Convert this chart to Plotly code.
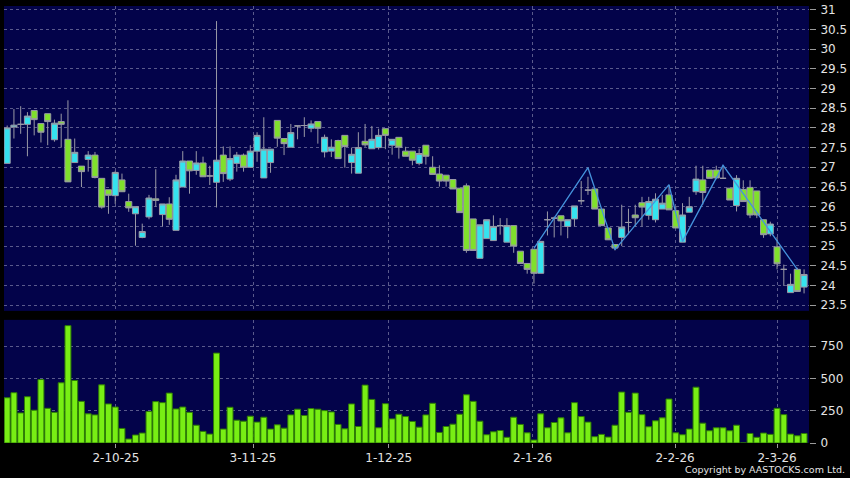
import plotly.graph_objects as go

# ---------------- data ----------------
opens = [27.10, 28.02, 28.09, 28.09, 28.44, 28.11, 28.36, 27.70, 28.16, 27.71,
         27.12, 27.03, 27.20, 27.31, 26.72, 26.43, 26.28, 26.68, 26.13, 25.82,
         25.22, 25.74, 26.20, 25.80, 26.07, 25.40, 26.50, 27.16, 26.92, 27.11,
         26.78, 26.62, 27.31, 26.70, 27.10, 27.31, 27.00, 27.41, 26.73, 27.12,
         28.19, 27.73, 27.51, 28.05, 28.06, 27.99, 28.16, 27.39, 27.41, 27.68,
         27.81, 27.12, 26.85, 27.66, 27.47, 27.50, 27.98, 27.56, 27.76, 27.41,
         27.41, 27.10, 27.56, 27.00, 26.83, 26.80, 26.69, 26.47, 26.53, 25.69,
         24.69, 25.19, 25.14, 25.52, 25.10, 25.52, 24.87, 24.56, 24.92, 24.31,
         25.67, 25.71, 25.77, 25.50, 25.69, 26.15, 26.42, 26.45, 25.94, 25.46,
         25.04, 25.22, 25.60, 25.79, 26.10, 25.78, 25.67, 25.94, 26.30, 25.90,
         25.10, 25.86, 26.38, 26.68, 26.93, 26.93, 26.72, 26.47, 26.03, 26.44,
         26.49, 26.40, 25.67, 25.31, 24.98, 24.41, 23.82, 24.41, 23.96]
highs = [28.06, 28.48, 28.55, 28.40, 28.44, 28.11, 28.36, 28.21, 28.36, 28.70,
         27.73, 27.03, 27.41, 27.39, 26.72, 26.43, 26.91, 26.84, 26.33, 26.00,
         25.57, 26.30, 26.95, 26.07, 26.24, 26.81, 27.41, 27.16, 27.41, 27.27,
         27.04, 30.71, 27.53, 27.53, 27.39, 27.35, 27.56, 27.89, 28.27, 27.46,
         28.19, 27.73, 28.10, 28.05, 28.27, 28.19, 28.16, 27.83, 27.71, 27.70,
         27.81, 27.50, 27.89, 28.10, 28.05, 27.98, 27.98, 27.71, 27.76, 27.52,
         27.41, 27.47, 27.56, 27.28, 27.05, 26.80, 26.69, 26.47, 26.59, 25.69,
         25.54, 25.67, 25.78, 25.71, 25.71, 25.52, 24.87, 24.56, 24.92, 25.12,
         25.88, 25.75, 25.77, 25.67, 26.02, 26.65, 26.76, 26.45, 25.94, 25.46,
         25.04, 26.05, 25.95, 26.05, 26.25, 26.25, 26.34, 26.30, 26.55, 26.00,
         26.09, 26.25, 27.04, 27.04, 26.93, 27.04, 27.05, 26.47, 26.80, 26.67,
         26.67, 26.40, 25.67, 25.62, 25.23, 24.53, 24.30, 24.45, 24.41]
lows = [27.10, 27.73, 27.85, 27.28, 27.81, 27.63, 27.56, 27.65, 27.50, 26.63,
        27.12, 26.50, 26.89, 26.72, 25.95, 25.82, 26.07, 26.38, 25.87, 25.01,
        25.20, 25.68, 26.00, 25.50, 25.54, 25.40, 26.50, 26.33, 26.81, 26.76,
        26.55, 25.98, 26.63, 26.65, 26.89, 26.89, 27.00, 27.14, 26.73, 26.86,
        27.52, 27.31, 27.51, 27.71, 27.77, 27.89, 27.60, 27.25, 27.26, 27.22,
        26.99, 26.84, 26.85, 27.52, 27.47, 27.45, 27.46, 27.32, 27.22, 27.28,
        27.05, 27.05, 27.07, 26.82, 26.51, 26.51, 26.45, 25.85, 24.83, 24.89,
        24.69, 25.19, 25.14, 25.29, 25.10, 24.83, 24.56, 24.30, 24.05, 24.31,
        25.27, 25.22, 25.27, 25.20, 25.50, 26.05, 26.30, 25.94, 25.52, 25.16,
        24.89, 25.00, 25.30, 25.50, 25.50, 25.67, 25.60, 25.94, 25.92, 25.46,
        25.10, 25.86, 26.30, 26.05, 26.72, 26.70, 26.72, 26.17, 25.88, 26.13,
        25.71, 25.71, 25.21, 25.25, 24.41, 23.99, 23.82, 23.85, 23.80]
closes = [28.00, 28.07, 28.09, 28.30, 28.21, 27.89, 28.16, 28.12, 28.09, 26.63,
          27.38, 26.89, 27.31, 26.74, 25.99, 26.29, 26.87, 26.38, 25.97, 26.00,
          25.37, 26.22, 26.16, 26.07, 25.68, 26.68, 27.16, 26.91, 27.11, 26.76,
          26.78, 27.18, 26.84, 27.22, 27.31, 27.00, 27.41, 27.81, 27.46, 27.46,
          27.74, 27.60, 27.88, 28.05, 28.06, 28.10, 27.99, 27.76, 27.51, 27.22,
          27.53, 27.33, 27.50, 27.57, 27.71, 27.81, 27.81, 27.71, 27.51, 27.28,
          27.18, 27.35, 27.28, 26.82, 26.65, 26.65, 26.45, 25.85, 24.89, 24.89,
          25.54, 25.67, 25.50, 25.52, 25.52, 25.00, 24.56, 24.41, 24.31, 25.12,
          25.67, 25.71, 25.64, 25.67, 26.02, 26.15, 26.42, 25.94, 25.52, 25.16,
          24.95, 25.48, 25.60, 25.72, 25.99, 26.13, 26.19, 26.09, 25.92, 25.46,
          25.79, 26.00, 26.70, 26.36, 26.72, 26.73, 26.72, 26.17, 26.72, 26.13,
          25.79, 25.79, 25.29, 25.56, 24.55, 24.41, 24.03, 23.85, 24.28]
volumes = [351, 390, 233, 359, 254, 492, 269, 238, 467, 910,
           485, 323, 226, 218, 451, 303, 279, 113, 31, 62,
           77, 244, 321, 313, 387, 264, 279, 238, 138, 90,
           69, 697, 108, 277, 177, 169, 208, 162, 200, 108,
           141, 115, 218, 262, 213, 267, 262, 251, 241, 144,
           110, 303, 128, 449, 338, 118, 305, 187, 223, 205,
           167, 123, 218, 308, 82, 128, 146, 223, 374, 323,
           169, 64, 87, 97, 44, 200, 144, 79, 23, 226,
           118, 159, 195, 79, 313, 205, 162, 49, 67, 46,
           138, 395, 238, 387, 220, 126, 172, 195, 341, 79,
           64, 108, 433, 154, 95, 118, 118, 95, 138, 0,
           74, 44, 77, 67, 269, 220, 69, 56, 74]
bar_index = list(range(len(closes)))

# zig-zag trend line (bar index, price)
zz_index = [78, 86, 90, 98, 100, 106, 117]
zz_price = [24.94, 26.99, 24.91, 26.56, 25.12, 27.05, 24.41]

# date tick labels and where they sit (bar index)
tick_pos = [16.1, 36.4, 56.5, 77.8, 98.9, 114.0]
tick_text = ["2-10-25", "3-11-25", "1-12-25", "2-1-26", "2-2-26", "2-3-26"]

price_ticks = [23.5, 24, 24.5, 25, 25.5, 26, 26.5, 27, 27.5, 28, 28.5, 29, 29.5, 30, 30.5, 31]
price_tick_text = ["23.5", "24", "24.5", "25", "25.5", "26", "26.5", "27", "27.5",
                   "28", "28.5", "29", "29.5", "30", "30.5", "31"]
vol_ticks = [0, 250, 500, 750]

# ---------------- styling ----------------
NAVY = "#03034a"
GRID = "#5a5a8c"
TXT = "#e4e4e4"
CYAN = "#35e3ef"
LGREEN = "#80e02c"
EDGE = "#9a9aa6"

fig = go.Figure()
fig.add_trace(go.Candlestick(
    x=bar_index, open=opens, high=highs, low=lows, close=closes,
    xaxis="x2", yaxis="y2", whiskerwidth=0,
    increasing=dict(fillcolor=CYAN, line=dict(color=EDGE, width=1)),
    decreasing=dict(fillcolor=LGREEN, line=dict(color=EDGE, width=1)),
    showlegend=False, hoverinfo="skip"))
fig.add_trace(go.Scatter(
    x=zz_index, y=zz_price, mode="lines", xaxis="x2", yaxis="y2",
    line=dict(color="#4593dc", width=1.3), showlegend=False, hoverinfo="skip"))
fig.add_trace(go.Bar(
    x=bar_index, y=volumes, xaxis="x", yaxis="y",
    marker=dict(color="#78ee14", line=dict(color="#2e7d05", width=1)),
    showlegend=False, hoverinfo="skip"))

common_x = dict(range=[-0.47, 118.73], tickvals=tick_pos, showgrid=True,
                gridcolor=GRID, griddash="3px,3px", gridwidth=1, zeroline=False,
                showline=False, fixedrange=True)

fig.update_layout(
    width=850, height=478,
    margin=dict(l=4, r=35, t=3, b=35),
    paper_bgcolor="#000000", plot_bgcolor=NAVY,
    font=dict(family="DejaVu Sans", size=12, color=TXT),
    bargap=0.12, boxgap=0.1, boxgroupgap=0,
    showlegend=False,
    xaxis=dict(common_x, domain=[0, 1], anchor="y", ticktext=tick_text,
               ticks="outside", ticklen=4, tickcolor="#9a9a9a"),
    xaxis2=dict(common_x, domain=[0, 1], anchor="y2", matches="x",
                showticklabels=False, ticks="", rangeslider=dict(visible=False)),
    yaxis=dict(domain=[0, 0.2818], range=[0, 955], side="right", anchor="x",
               tickvals=vol_ticks, ticks="outside", ticklen=6, tickcolor="#9a9a9a",
               ticklabelstandoff=2,
               showgrid=True, gridcolor=GRID, griddash="3px,3px", zeroline=False,
               showline=False, fixedrange=True),
    yaxis2=dict(domain=[0.3023, 1], range=[23.356, 31.093], side="right", anchor="x2",
                tickvals=price_ticks, ticktext=price_tick_text, ticks="outside",
                ticklen=6, tickcolor="#9a9a9a", ticklabelstandoff=2,
                ticklabeloverflow="allow", showgrid=True, gridcolor=GRID,
                griddash="3px,3px", zeroline=False, showline=False, fixedrange=True),
    annotations=[dict(text="Copyright by AASTOCKS.com Ltd.", xref="paper", yref="paper",
                      x=1.0469, y=-0.0614, xanchor="right", yanchor="middle",
                      showarrow=False, font=dict(size=9.5, color=TXT, family="DejaVu Sans"))],
)

fig.write_html(
    "out.html",
    config={"displayModeBar": False, "staticPlot": True},
    post_script="document.body.style.margin='0';document.body.style.padding='0';"
                "document.body.style.overflow='hidden';document.body.style.background='#000';",
)
